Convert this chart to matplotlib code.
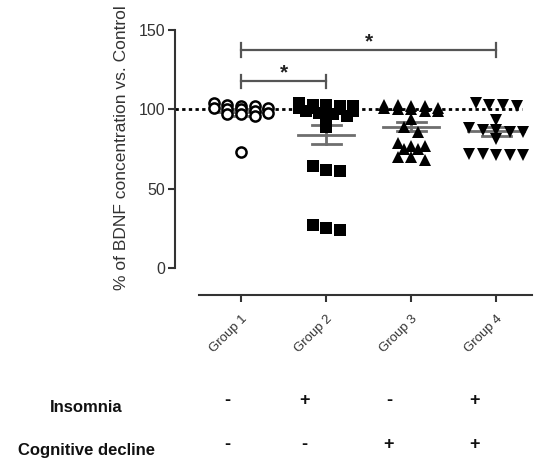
import numpy as np
import matplotlib
matplotlib.use('Agg')
import matplotlib.pyplot as plt

plt.rcParams['font.family'] = ['Liberation Sans', 'DejaVu Sans']

# values (% of control)
groups = ['Group 1', 'Group 2', 'Group 3', 'Group 4']
group1 = [104, 103, 102, 102, 101, 101, 100, 100, 99, 98, 97, 97, 96, 73]
group2 = [104, 103, 103, 102, 102, 101, 101, 100, 100, 99, 99, 98, 97, 96, 94, 89,
          64, 62, 61, 27, 25, 24]
group3 = [103, 103, 102, 102, 101, 101, 100, 100, 99, 99, 94, 89, 86,
          79, 77, 77, 75, 75, 70, 70, 68]
group4 = [104, 103, 103, 102, 93, 88, 87, 87, 86, 86, 81, 72, 72, 71, 71, 71]
insomnia = ['-', '+', '-', '+']
cognitive = ['-', '-', '+', '+']
sig_pairs = [(1, 2), (1, 4)]

W, H = 535, 461
fig = plt.figure(figsize=(W / 100, H / 100), dpi=100)
ax = fig.add_axes([175 / W, 1 - 295 / H, (532 - 175) / W, (295 - 30) / H])


def swarm_offsets(vals, tol=3.0, max_n=5, step=0.16):
    # Prism-like spreading: points with close values sit side by side
    vals = np.asarray(vals, float)
    order = np.argsort(-vals, kind='stable')
    rows = []
    for i in order:
        if rows and len(rows[-1]) < max_n and vals[i] >= vals[rows[-1][0]] - tol:
            rows[-1].append(i)
        else:
            rows.append([i])
    offs = np.zeros(len(vals))
    for r in rows:
        for k, i in enumerate(r):
            offs[i] = (k - (len(r) - 1) / 2) * step
    return offs


styles = [dict(marker='o', mfc='white', mec='black', mew=1.8, ms=7.3),
          dict(marker='s', mfc='black', mec='black', mew=0, ms=8),
          dict(marker='^', mfc='black', mec='black', mew=0, ms=9),
          dict(marker='v', mfc='black', mec='black', mew=0, ms=9)]

ax.axhline(100, xmax=0.972, color='black', lw=2, ls=(0, (1.2, 1.2)), zorder=1)

gray = '#6e6e6e'
for i, (vals, st) in enumerate(zip([group1, group2, group3, group4], styles)):
    x0 = i + 1
    v = np.asarray(vals, float)
    xs = x0 + swarm_offsets(v)
    ax.plot(xs, v, ls='none', zorder=3, **st)
    m = v.mean()
    sem = v.std(ddof=1) / np.sqrt(len(v))
    ax.plot([x0 - 0.33, x0 + 0.33], [m, m], color=gray, lw=2, zorder=2.5)
    ax.plot([x0, x0], [m - sem, m + sem], color=gray, lw=2, zorder=2.5)
    for y in (m - sem, m + sem):
        ax.plot([x0 - 0.17, x0 + 0.17], [y, y], color=gray, lw=2, zorder=2.5)

# significance brackets
bar_y = [117.7, 137.3]
for (a, b), y in zip(sig_pairs, bar_y):
    ax.plot([a, b], [y, y], color='#555555', lw=1.6, clip_on=False)
    for xx in (a, b):
        ax.plot([xx, xx], [y - 4.2, y + 4.2], color='#555555', lw=1.6, clip_on=False)
    ax.text((a + b) / 2, y + 5, '*', ha='center', va='center',
            fontsize=15, fontweight='bold', color='#222222', clip_on=False)

ax.set_xlim(0.2235, 4.42)
ax.set_ylim(-17, 150)
ax.set_yticks([0, 50, 100, 150])
ax.set_xticks([1, 2, 3, 4])
ax.set_xticklabels(groups, rotation=45, ha='right', va='top',
                   rotation_mode='anchor', fontsize=9.5, color='#333333')
ax.tick_params(axis='y', labelsize=11.5, labelcolor='#333333', length=5,
               width=1.5, color='#333333', pad=2)
ax.tick_params(axis='x', length=5, width=1.5, color='#333333', pad=8)
ax.set_ylabel('% of BDNF concentration vs. Control', fontsize=12.5,
              color='#333333')
ax.yaxis.set_label_coords(-0.128, 0.555)

for s in ['top', 'right']:
    ax.spines[s].set_visible(False)
ax.spines['left'].set_bounds(0, 150)
ax.spines['bottom'].set_bounds(0.5, 4.42)
for s in ['left', 'bottom']:
    ax.spines[s].set_linewidth(1.5)
    ax.spines[s].set_color('#333333')

# condition table below the axis
sign_x = [227, 304, 389, 475]
fig.text(86 / W, 1 - 407 / H, 'Insomnia', ha='center', va='center',
         fontsize=12, fontweight='bold', color='#111111')
fig.text(86 / W, 1 - 450 / H, 'Cognitive decline', ha='center', va='center',
         fontsize=12, fontweight='bold', color='#111111')
for x, s1, s2 in zip(sign_x, insomnia, cognitive):
    fig.text(x / W, 1 - 400 / H, s1, ha='center', va='center', fontsize=13,
             fontweight='bold', color='#111111')
    fig.text(x / W, 1 - 444 / H, s2, ha='center', va='center', fontsize=13,
             fontweight='bold', color='#111111')

fig.savefig('out.png', dpi=100, facecolor='white')
